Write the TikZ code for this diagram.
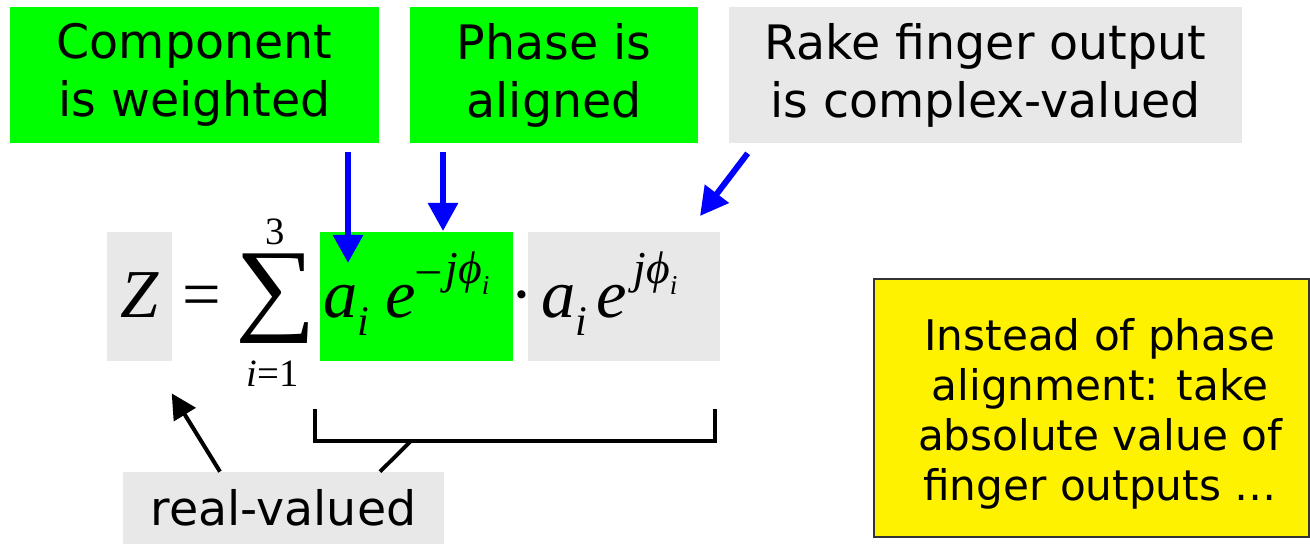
\documentclass[tikz,border=0pt]{standalone}
\usepackage{fontspec}
\usepackage{graphicx}
\newfontfamily\dejavu{DejaVu Sans}
\newfontfamily\tnr{Liberation Serif}
\usetikzlibrary{arrows.meta}
\definecolor{BrightGreen}{rgb}{0, 1, 0}
\definecolor{LightGray}{rgb}{0.91, 0.91, 0.91}
\definecolor{PureBlue}{rgb}{0, 0, 1}

\begin{document}
\begin{tikzpicture}[
    caption/.style={font=\dejavu\fontsize{27}{33}\selectfont, align=center,
        inner sep=0pt, minimum height=2.72cm},
    term/.style={font=\tnr\itshape\fontsize{39}{47}\selectfont, anchor=base west,
        inner xsep=0pt, inner ysep=0pt, text height=1.72cm, text depth=0.86cm},
    sym/.style={font=\tnr\fontsize{39}{47}\selectfont, anchor=base, inner sep=0pt},
    limit/.style={font=\tnr\fontsize{22}{26}\selectfont, anchor=base, inner sep=0pt},
    bluearrow/.style={-{Triangle[length=5.6mm, width=5.8mm]}, line width=3.4pt, PureBlue},
    blackarrow/.style={-{Triangle[length=5mm, width=5mm]}, line width=2.3pt},
    bracket/.style={line width=2.2pt},
    note/.style={draw=black!80, line width=0.8pt, fill=yellow,
        minimum width=8.7cm, minimum height=5.16cm},
    notetext/.style={align=center, inner sep=0pt,
        font=\dejavu\fontsize{24}{28.5}\selectfont},
]

\useasboundingbox (0,0) rectangle (26.2,10.88);

% captions on top
\foreach \x/\w/\col/\nm/\txt in {%
    3.89/7.38/BrightGreen/comp/{Component\\is weighted},
    11.08/5.76/BrightGreen/phase/{Phase is\\aligned},
    19.71/10.26/LightGray/rake/{Rake finger output\\is complex-valued}%
}{
    \node[caption, fill=\col, minimum width=\w cm] (\nm) at (\x,9.38) {\txt};
}

% combiner formula
\node[term, fill=LightGray, text width=1.3cm, align=center] (zbox) at (2.14,4.52) {Z};
\node[sym] (eq) at (4.03,4.52) {=};
\node[inner sep=0pt] (sigma) at (5.52,4.9) {\resizebox*{46pt}{51pt}{\tnr ∑}};
\node[limit] (upper) at (5.5,5.98) {3};
\node[limit] (lower) at (5.45,3.14) {\itshape i\upshape =1};
\node[term, fill=BrightGreen, text width=3.74cm, inner xsep=0.06cm, align=left]
    (wterm) at (6.4,4.52) {a\raisebox{-9.7pt}{\fontsize{24}{28}\selectfont i}\hspace{9pt}e%
    \raisebox{19.6pt}{\fontsize{26}{30}\selectfont\upshape\hspace{1pt}–\itshape\hspace{3pt}jϕ%
    \raisebox{-6.5pt}{\fontsize{15.5}{18}\selectfont i}}};
\node[term, fill=LightGray, text width=3.32cm, inner xsep=0.26cm, align=left]
    (cterm) at (10.56,4.52) {a\raisebox{-9.7pt}{\fontsize{24}{28}\selectfont i}\hspace{5pt}e%
    \raisebox{19.6pt}{\fontsize{26}{30}\selectfont\hspace{4pt}jϕ%
    \raisebox{-6.5pt}{\fontsize{15.5}{18}\selectfont i}}};
\node[sym] (dot) at (10.44,4.52) {·};

% blue pointers
\coordinate (wt) at (6.96,5.62);
\coordinate (ph) at (8.86,6.26);
\coordinate (cx) at (14.0,6.56);
\draw[bluearrow, shorten <=0.18cm] (wt |- comp.south) -- (wt);
\draw[bluearrow, shorten <=0.18cm] (ph |- phase.south) -- (ph);
\draw[bluearrow] ([shift={(0.38,-0.2)}]rake.south west) -- (cx);

% real-valued part
\node[caption, fill=LightGray, minimum width=6.42cm, minimum height=1.44cm]
    (realv) at (5.67,0.72) {real-valued};
\coordinate (bl) at (6.3,2.06);
\coordinate (br) at (14.3,2.06);
\coordinate (bm) at (8.22,2.06);
\draw[bracket] (bl) ++(0,0.64) |- (br) -- ++(0,0.64);
\draw[bracket] ([xshift=1.93cm]realv.north) -- (bm);
\draw[blackarrow] ([xshift=-1.27cm]realv.north) -- ([shift={(-0.02,-0.64)}]zbox.south east);

% alternative
\node[note] (alt) at (21.83,2.72) {};
\node[notetext] (alttext) at ([shift={(0.17,-0.12)}]alt.center)
    {Instead of phase\\alignment: take\\absolute value of\\finger outputs \ldots};

\end{tikzpicture}
\end{document}
